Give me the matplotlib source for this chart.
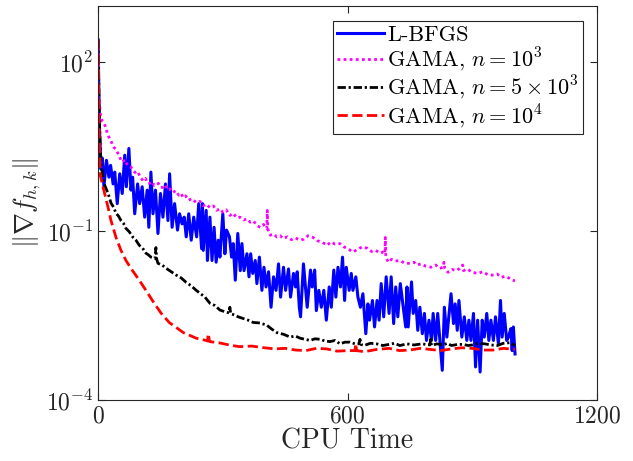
import numpy as np
import matplotlib.pyplot as plt

plt.rcParams['font.family'] = 'cmr10'
plt.rcParams['mathtext.fontset'] = 'cm'
plt.rcParams['axes.unicode_minus'] = False
plt.rcParams['axes.formatter.use_mathtext'] = True

# CPU time (s) and log10 of the gradient norm
lbfgs_t = [0, 3, 7, 10, 14, 20, 26, 30, 36, 40, 46, 52, 58, 64, 68, 74, 79, 83, 88, 95, 100,
           106, 112, 118, 122, 127, 132, 138, 144, 150, 156, 162, 168, 172, 178, 184, 191, 196,
           202, 207, 212, 218, 224, 230, 237, 242, 249, 251, 253, 260, 263, 269, 274, 279, 284,
           289, 293, 300, 305, 309, 316, 321, 325, 330, 336, 342, 346, 351, 358, 363, 367, 372,
           378, 382, 388, 394, 399, 404, 410, 416, 422, 428, 434, 439, 446, 451, 458, 463, 470,
           475, 479, 484, 487, 494, 503, 511, 515, 521, 525, 531, 537, 543, 549, 556, 561, 567,
           572, 577, 583, 588, 593, 597, 604, 609, 613, 620, 625, 631, 637, 644, 649, 653, 660,
           665, 671, 676, 681, 687, 693, 700, 705, 711, 716, 721, 727, 734, 740, 743, 746, 754,
           758, 764, 769, 774, 780, 785, 790, 796, 802, 806, 812, 817, 823, 828, 833, 839, 849,
           855, 859, 864, 868, 875, 881, 887, 892, 897, 903, 908, 913, 919, 924, 929, 935, 940,
           945, 951, 956, 963, 968, 972, 977, 983, 987, 993, 996, 999, 1003]
lbfgs_log = [2.4, 0.9, 0.1, 0.3, -0.21, 0.26, -0.04, 0.17, -0.16, 0.05, -0.51, 0.02, -0.33,
             0.35, -0.21, 0.47, -0.27, -0.04, -0.69, -0.16, -0.51, -0.21, -0.75, -0.27, -0.93,
             0.05, -0.69, -0.27, -1.04, -0.33, -0.75, -0.16, -0.81, 0.02, -0.93, -0.51, -0.98,
             -0.69, -0.87, -0.75, -1.10, -0.69, -1.16, -0.75, -1.10, -0.51, -1.31, -0.51, -1.34,
             -0.63, -1.52, -0.75, -1.52, -0.93, -1.55, -1.16, -1.46, -0.69, -1.40, -0.98, -1.10,
             -1.46, -1.22, -1.87, -1.04, -1.70, -1.22, -1.70, -1.40, -1.81, -1.40, -1.75, -1.52,
             -1.93, -1.46, -2.05, -1.64, -1.99, -1.72, -2.35, -1.81, -2.05, -1.58, -2.17, -1.64,
             -2.05, -1.67, -2.17, -1.75, -1.99, -1.72, -2.35, -2.52, -1.58, -2.35, -1.69, -1.99,
             -1.69, -2.41, -2.05, -2.35, -2.05, -2.58, -1.99, -2.35, -1.69, -2.17, -1.64, -1.99,
             -1.46, -2.23, -1.64, -2.05, -1.75, -2.05, -1.81, -2.17, -2.35, -2.11, -2.82, -2.29,
             -2.58, -2.23, -2.70, -2.23, -2.58, -1.93, -2.52, -1.81, -2.46, -1.81, -2.64, -1.99,
             -2.52, -1.93, -2.35, -2.70, -1.99, -2.70, -1.90, -2.46, -2.23, -2.76, -2.35, -2.82,
             -2.46, -2.94, -2.58, -2.94, -2.46, -2.94, -2.46, -3.00, -3.47, -2.35, -2.88, -2.11,
             -2.64, -2.29, -2.76, -2.23, -2.88, -2.52, -2.94, -2.58, -2.94, -2.46, -3.41, -2.58,
             -3.50, -2.58, -2.88, -2.46, -2.94, -2.58, -2.94, -2.52, -3.00, -2.23, -2.88, -2.46,
             -2.94, -2.88, -2.73, -3.12, -2.70, -3.18]

g1_t = [0, 2, 5, 7, 10, 14, 18, 22, 26, 30, 34, 38, 43, 48, 52, 55, 60, 64, 67, 72, 79, 84,
        91, 96, 101, 108, 114, 118, 123, 130, 135, 139, 145, 150, 156, 162, 168, 174, 180, 187,
        194, 200, 204, 210, 218, 225, 236, 245, 252, 260, 269, 277, 285, 293, 300, 308, 317,
        325, 333, 341, 350, 358, 366, 374, 382, 390, 398, 404, 406, 407, 408, 411, 414, 422,
        430, 438, 445, 455, 465, 475, 486, 495, 505, 517, 528, 540, 551, 560, 570, 582, 592,
        603, 613, 622, 635, 647, 658, 668, 678, 685, 690, 691, 692, 698, 706, 715, 726, 738,
        750, 760, 767, 777, 788, 801, 812, 822, 830, 832, 834, 842, 852, 862, 870, 877, 879,
        888, 900, 914, 925, 937, 948, 960, 970, 979, 988, 996, 1003]
g1_log = [2.4, 1.4, 1.1, 1.02, 0.95, 0.92, 0.85, 0.74, 0.67, 0.62, 0.55, 0.49, 0.45, 0.38,
          0.32, 0.26, 0.28, 0.20, 0.22, 0.16, 0.14, 0.08, 0.03, 0.05, -0.04, -0.10, -0.06,
          -0.14, -0.15, -0.12, -0.19, -0.18, -0.15, -0.22, -0.22, -0.18, -0.27, -0.25, -0.31,
          -0.28, -0.36, -0.33, -0.40, -0.37, -0.45, -0.42, -0.49, -0.47, -0.55, -0.52, -0.58,
          -0.55, -0.63, -0.60, -0.66, -0.62, -0.72, -0.68, -0.76, -0.75, -0.80, -0.78, -0.84,
          -0.82, -0.90, -0.93, -0.88, -0.95, -0.95, -0.63, -0.95, -1.03, -1.07, -1.05, -1.10,
          -1.08, -1.13, -1.10, -1.15, -1.12, -1.16, -1.14, -1.08, -1.11, -1.17, -1.20, -1.25,
          -1.19, -1.23, -1.22, -1.28, -1.32, -1.37, -1.33, -1.28, -1.30, -1.36, -1.34, -1.39,
          -1.37, -1.40, -1.11, -1.45, -1.55, -1.50, -1.53, -1.52, -1.57, -1.57, -1.55, -1.60,
          -1.58, -1.62, -1.64, -1.60, -1.66, -1.64, -1.55, -1.66, -1.73, -1.68, -1.70, -1.66,
          -1.60, -1.70, -1.67, -1.73, -1.75, -1.72, -1.77, -1.78, -1.76, -1.82, -1.80, -1.83,
          -1.87, -1.88]

g5_t = [0, 2, 5, 7, 14, 24, 31, 37, 43, 49, 55, 61, 67, 75, 84, 91, 99, 107, 115, 121, 127,
        137, 139, 141, 144, 154, 164, 176, 188, 200, 212, 224, 236, 245, 257, 269, 281, 293,
        305, 315, 317, 319, 325, 337, 349, 361, 373, 390, 406, 418, 430, 446, 462, 474, 486,
        498, 510, 522, 534, 546, 558, 570, 582, 594, 606, 618, 628, 630, 632, 640, 655, 670,
        685, 700, 713, 726, 743, 760, 779, 798, 800, 802, 815, 830, 840, 850, 865, 880, 890,
        900, 915, 930, 945, 960, 975, 990, 1003]
g5_log = [2.4, 1.3, 0.5, 0.2, -0.15, -0.33, -0.50, -0.57, -0.68, -0.73, -0.81, -0.86, -0.95,
          -1.01, -1.11, -1.16, -1.25, -1.30, -1.39, -1.42, -1.46, -1.48, -1.29, -1.50, -1.57,
          -1.60, -1.66, -1.72, -1.78, -1.83, -1.91, -1.97, -2.05, -2.10, -2.17, -2.28, -2.32,
          -2.40, -2.43, -2.45, -2.35, -2.47, -2.48, -2.52, -2.55, -2.58, -2.62, -2.63, -2.67,
          -2.74, -2.80, -2.83, -2.88, -2.86, -2.90, -2.92, -2.94, -2.91, -2.92, -2.95, -2.96,
          -2.94, -3.00, -2.97, -2.97, -3.00, -3.00, -2.92, -3.01, -3.03, -2.99, -3.00, -3.03,
          -3.01, -2.99, -3.03, -3.00, -3.02, -3.00, -3.02, -2.92, -3.03, -3.00, -3.02, -2.99,
          -3.03, -3.01, -3.01, -3.03, -3.02, -2.99, -3.00, -3.02, -3.03, -2.99, -2.98, -3.03]

g10_t = [0, 2, 5, 12, 24, 31, 43, 55, 67, 79, 99, 115, 135, 152, 171, 205, 236, 260, 263, 265,
         268, 290, 315, 340, 370, 400, 425, 450, 475, 500, 525, 550, 575, 600, 618, 620, 622,
         640, 670, 700, 725, 750, 775, 800, 825, 850, 875, 900, 925, 950, 975, 1003]
g10_log = [2.4, 1.0, 0.0, -0.22, -0.58, -0.81, -1.11, -1.34, -1.52, -1.66, -1.87, -2.05,
           -2.28, -2.46, -2.62, -2.80, -2.90, -2.94, -2.95, -2.82, -2.96, -2.98, -3.02, -3.05,
           -3.04, -3.07, -3.09, -3.08, -3.11, -3.12, -3.08, -3.09, -3.13, -3.12, -3.12, -3.00,
           -3.12, -3.14, -3.10, -3.08, -3.12, -3.11, -3.08, -3.10, -3.12, -3.09, -3.07, -3.08,
           -3.11, -3.11, -3.08, -3.10]

labels = ['L-BFGS', r'GAMA, $n = 10^3$', r'GAMA, $n = 5\times10^3$', r'GAMA, $n = 10^4$']

fig = plt.figure(figsize=(6.33, 4.61), dpi=100)
ax = fig.add_axes([0.155, 0.132, 0.788, 0.855])

ax.plot(lbfgs_t, 10.0 ** np.array(lbfgs_log), '-', color='blue', lw=2.2, label=labels[0])
ax.plot(g1_t, 10.0 ** np.array(g1_log), color='magenta', lw=2, dashes=(1, 1.2),
        label=labels[1])
ax.plot(g5_t, 10.0 ** np.array(g5_log), color='black', lw=2, dashes=(3, 1, 0.8, 1),
        label=labels[2])
ax.plot(g10_t, 10.0 ** np.array(g10_log), '--', color='red', lw=2, label=labels[3])

ax.set_yscale('log')
ax.set_xlim(0, 1200)
ax.set_ylim(1e-4, 1e3)
ax.set_xticks([0, 600, 1200])
ax.set_yticks([1e2, 1e-1, 1e-4])
ax.minorticks_off()
ax.tick_params(direction='in', top=True, right=True, labelsize=17, length=5,
               color='#262626', labelcolor='#262626')
for s in ax.spines.values():
    s.set_color('#262626')
    s.set_linewidth(0.8)

ax.set_xlabel('CPU Time', fontsize=20, color='#262626', labelpad=1)
ax.set_ylabel(r'$\|\nabla f_{h,k}\|$', fontsize=19, color='#262626', labelpad=2)

leg = ax.legend(loc='upper right', bbox_to_anchor=(0.972, 0.962), fontsize=16,
                fancybox=False, framealpha=1, edgecolor='#262626', handlelength=2.1,
                handletextpad=0.15, borderpad=0.2, labelspacing=0.02, borderaxespad=0)
leg.get_frame().set_linewidth(0.8)

fig.savefig('out.png', dpi=100)
